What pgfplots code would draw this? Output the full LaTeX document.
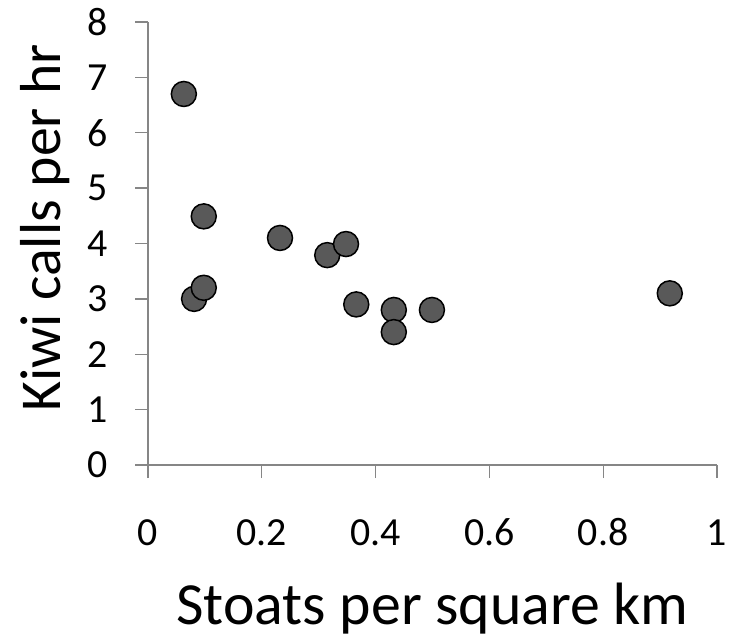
\documentclass[border=0pt]{standalone}
\usepackage{pgfplots}
\pgfplotsset{compat=1.18}
\usepackage{fontspec}
\setmainfont{Carlito}
\definecolor{axgray}{HTML}{868686}
\definecolor{mk}{HTML}{595959}
\begin{document}
\begin{tikzpicture}[x=1bp,y=1bp]
\useasboundingbox (-148,-176) rectangle (583,465);
\begin{axis}[
  at={(0,0)}, anchor=south west,
  scale only axis, width=569bp, height=443bp,
  xmin=0, xmax=1, ymin=0, ymax=8,
  axis x line*=bottom, axis y line*=left,
  xtick={0,0.2,0.4,0.6,0.8,1}, ytick={0,1,2,3,4,5,6,7,8},
  tick align=outside, major tick length=13bp,
  axis line style={axgray, line width=1.3bp},
  tick style={axgray, line width=1.3bp},
  /pgf/number format/assume math mode=true,
  ticklabel style={font=\fontsize{40}{48}\selectfont, text=black},
  xticklabel style={anchor=base, inner sep=0pt, yshift=-67bp},
  yticklabel style={anchor=east, inner sep=0pt, xshift=-27bp},
  xlabel={Stoats per square km},
  ylabel={Kiwi calls per hr},
  xlabel style={font=\fontsize{60}{72}\selectfont, at={(axis description cs:0.5,-0.323)}, anchor=center},
  ylabel style={font=\fontsize{58}{70}\selectfont, at={(axis description cs:-0.181,0.535)}, anchor=center, rotate=0},
  clip=false,
]
\addplot[only marks, mark=*, mark size=12.5bp,
  mark options={fill=mk, draw=black, line width=1.5bp}]
coordinates {
(0.063,6.70) (0.098,4.49) (0.081,3.00) (0.098,3.20) (0.232,4.10)
(0.315,3.79) (0.348,3.99) (0.366,2.90) (0.432,2.80) (0.432,2.40)
(0.499,2.80) (0.917,3.10)
};
\draw[axgray, line width=1.3bp] (axis cs:0,0) -- ++(-13bp,0);
\end{axis}
\end{tikzpicture}
\end{document}
